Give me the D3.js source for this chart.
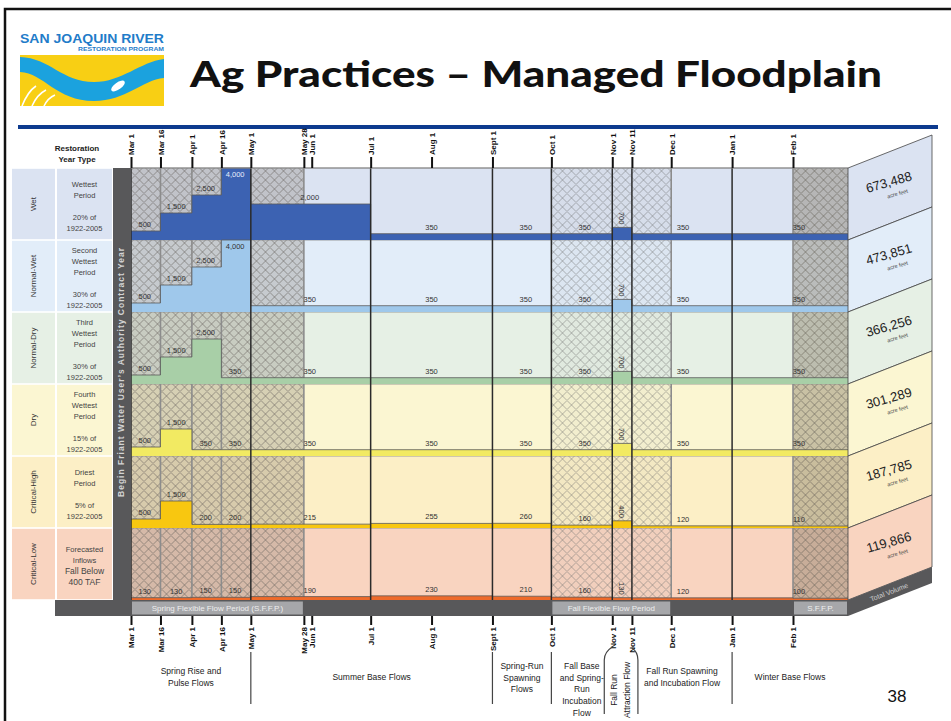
<!DOCTYPE html>
<html>
<head>
<meta charset="utf-8">
<script src="https://cdn.jsdelivr.net/npm/d3@7"></script>
<style>
  body { margin: 0; background: #fff; }
  text { font-family: "Liberation Sans", Arial, sans-serif; }
  .tick text { font-family: "Liberation Sans Narrow", "Liberation Sans", sans-serif; font-weight: bold; font-size: 8px; }
</style>
</head>
<body>
<div id="chart"></div>
<script>
// restoration year types, top to bottom
var yearTypes = ["Wet", "Normal-Wet", "Normal-Dry", "Dry", "Critical-High", "Critical-Low"];
var descriptions = [
  ["Wettest", "Period", "", "20% of", "1922-2005"],
  ["Second", "Wettest", "Period", "", "30% of", "1922-2005"],
  ["Third", "Wettest", "Period", "", "30% of", "1922-2005"],
  ["Fourth", "Wettest", "Period", "", "15% of", "1922-2005"],
  ["Driest", "Period", "", "5% of", "1922-2005"],
  ["Forecasted", "Inflows", "Fall Below", "400 TAF"]
];
var totalVolumes = ["673,488", "473,851", "366,256", "301,289", "187,785", "119,866"];

// flow periods (start dates, last one is the end of the year)
var periodBounds = ["2010-03-01", "2010-03-16", "2010-04-01", "2010-04-16", "2010-05-01", "2010-07-01",
  "2010-09-01", "2010-10-01", "2010-11-01", "2010-11-11", "2011-02-01", "2011-03-01"];
var labelDates = ["2010-03-08", "2010-03-24", "2010-04-08", "2010-04-23", "2010-05-31", "2010-08-01",
  "2010-09-18", "2010-10-18", "2010-11-06", "2010-12-07", "2011-02-04"];

// flows in cfs for each period
var flowWet          = [500, 1500, 2500, 4000, 2000, 350, 350, 350, 700, 350, 350];
var flowNormalWet    = [500, 1500, 2500, 4000, 350, 350, 350, 350, 700, 350, 350];
var flowNormalDry    = [500, 1500, 2500, 350, 350, 350, 350, 350, 700, 350, 350];
var flowDry          = [500, 1500, 350, 350, 350, 350, 350, 350, 700, 350, 350];
var flowCriticalHigh = [500, 1500, 200, 200, 215, 255, 260, 160, 400, 120, 110];
var flowCriticalLow  = [130, 130, 150, 150, 190, 230, 210, 160, 130, 120, 100];
var flows = [flowWet, flowNormalWet, flowNormalDry, flowDry, flowCriticalHigh, flowCriticalLow];

// axis ticks
var tickDates = ["2010-03-01", "2010-03-16", "2010-04-01", "2010-04-16", "2010-05-01", "2010-05-28", "2010-06-01",
  "2010-07-01", "2010-08-01", "2010-09-01", "2010-10-01", "2010-11-01", "2010-11-11", "2010-12-01", "2011-01-01", "2011-02-01"];
var tickLabels = ["Mar 1", "Mar 16", "Apr 1", "Apr 16", "May 1", "May 28", "Jun 1", "Jul 1", "Aug 1",
  "Sept 1", "Oct 1", "Nov 1", "Nov 11", "Dec 1", "Jan 1", "Feb 1"];
var strongLines = ["2010-05-01", "2010-07-01", "2010-09-01", "2010-10-01", "2010-11-01", "2010-11-11", "2011-01-01"];
var lightLines = ["2010-03-16", "2010-04-01", "2010-04-16", "2010-05-28", "2010-12-01", "2011-02-01"];

// flexible flow periods (hatched)
var flexStarts = ["2010-03-01", "2010-10-01", "2011-02-01"];
var flexEnds = ["2010-05-28", "2010-12-01", "2011-03-01"];
var flexNames = ["Spring Flexible Flow Period (S.F.F.P.)", "Fall Flexible Flow Period", "S.F.F.P."];

// flow periods named under the chart
var sectionNames = [["Spring Rise and", "Pulse Flows"], ["Summer Base Flows"], ["Spring-Run", "Spawning", "Flows"],
  ["Fall Base", "and Spring-", "Run", "Incubation", "Flow"], ["Fall Run Spawning", "and Incubation Flow"], ["Winter Base Flows"]];
var sectionStarts = ["2010-03-01", "2010-05-01", "2010-09-01", "2010-10-01", "2010-11-11", "2011-01-01"];
var sectionEnds = ["2010-05-01", "2010-09-01", "2010-10-01", "2010-11-01", "2011-01-01", "2011-03-01"];
var sectionLines = ["2010-05-01", "2010-09-01", "2010-10-01", "2011-01-01"];

var rowFill = ["#dbe3f2", "#e2edf9", "#e6f0e5", "#fbf6d2", "#fcefc6", "#f9d4c0"];
var barFill = ["#3c62b2", "#9fc8eb", "#a8cfa7", "#f2ea62", "#f8c710", "#ee6a2a"];

var parse = d3.timeParse("%Y-%m-%d");
var fmt = d3.format(",");

var svg = d3.select("#chart").append("svg").attr("width", 951).attr("height", 721);

// slide frame, logo, title
svg.append("rect").attr("x", 5).attr("y", 9).attr("width", 1000).attr("height", 1000)
  .attr("fill", "none").attr("stroke", "#111").attr("stroke-width", 2.5);

var logo = svg.append("g");
logo.append("text").attr("x", 20).attr("y", 43).attr("textLength", 144).attr("lengthAdjust", "spacingAndGlyphs")
  .attr("font-size", 12).attr("font-weight", "bold").attr("fill", "#1f7cc9")
  .style("font-family", "'Liberation Sans Narrow', sans-serif").text("SAN JOAQUIN RIVER");
logo.append("text").attr("x", 78).attr("y", 51).attr("textLength", 86).attr("lengthAdjust", "spacingAndGlyphs")
  .attr("font-size", 5.5).attr("font-weight", "bold").attr("fill", "#1f7cc9").text("RESTORATION PROGRAM");
logo.append("rect").attr("x", 20).attr("y", 55).attr("width", 144).attr("height", 51).attr("fill", "#f8cf14");
logo.append("path").attr("fill", "#1ba2de")
  .attr("d", "M20,57 C50,58 62,82 94,82 C122,82 140,62 164,59 L164,78 C142,80 126,101 94,101 C56,101 44,73 20,72 Z");
logo.append("path").attr("fill", "none").attr("stroke", "#fff").attr("stroke-width", 1.6)
  .attr("d", "M22,106 C26,96 30,90 36,86 M32,106 C36,97 40,93 46,90 M44,106 C47,100 50,97 55,95");
logo.append("ellipse").attr("cx", 118).attr("cy", 86).attr("rx", 8).attr("ry", 3.5)
  .attr("transform", "rotate(-35,118,86)").attr("fill", "#fff");

svg.append("text").attr("x", 190).attr("y", 87).attr("font-size", 36).attr("font-weight", 900)
  .attr("textLength", 692).attr("lengthAdjust", "spacingAndGlyphs")
  .style("font-family", "Lato, 'Open Sans', sans-serif").attr("fill", "#111")
  .text("Ag Practices \u2013 Managed Floodplain");

svg.append("rect").attr("x", 18).attr("y", 125).attr("width", 920).attr("height", 4).attr("fill", "#0d3a8e");

// scales
var chartTop = 168, rowH = 72;
var x = d3.scaleTime().domain([parse("2010-03-01"), parse("2011-03-01")]).range([131, 848]);
var y = d3.scaleBand().domain(yearTypes).range([chartTop, chartTop + rowH * yearTypes.length]);
var h = d3.scaleLinear().domain([0, 4000]).range([0, rowH]);
var chartBottom = chartTop + rowH * yearTypes.length;

// patterns
var defs = svg.append("defs");
function lattice(id, tint, stroke) {
  var p = defs.append("pattern").attr("id", id).attr("patternUnits", "userSpaceOnUse")
    .attr("width", 9).attr("height", 9);
  p.append("rect").attr("width", 9).attr("height", 9).attr("fill", tint);
  p.append("path").attr("d", "M0,4.5 Q2.25,2.25 4.5,0 Q6.75,2.25 9,4.5 Q6.75,6.75 4.5,9 Q2.25,6.75 0,4.5 Z")
    .attr("fill", "none").attr("stroke", stroke).attr("stroke-width", 0.8);
}
lattice("hatchDark", "rgba(140,130,118,0.33)", "rgba(105,100,95,0.75)");
lattice("hatchLight", "rgba(170,170,170,0.10)", "rgba(110,110,110,0.6)");
lattice("hatchFeb", "rgba(130,118,100,0.42)", "rgba(100,95,88,0.75)");
var hatchIds = ["hatchDark", "hatchLight", "hatchFeb"];

// row backgrounds
svg.selectAll(".rowBg").data(yearTypes).enter().append("rect")
  .attr("x", x.range()[0]).attr("width", x.range()[1] - x.range()[0])
  .attr("y", function(d) { return y(d); }).attr("height", y.bandwidth())
  .attr("fill", function(d, i) { return rowFill[i]; });

// hatched flexible periods
svg.selectAll(".flex").data(flexStarts).enter().append("rect")
  .attr("x", function(d) { return x(parse(d)); })
  .attr("width", function(d, i) { return x(parse(flexEnds[i])) - x(parse(d)); })
  .attr("y", chartTop).attr("height", chartBottom - chartTop)
  .attr("fill", function(d, i) { return "url(#" + hatchIds[i] + ")"; });

// row separators
svg.selectAll(".sep").data(yearTypes).enter().append("line")
  .attr("x1", x.range()[0]).attr("x2", x.range()[1])
  .attr("y1", function(d) { return y(d); }).attr("y2", function(d) { return y(d); })
  .attr("stroke", "#8a8a8a").attr("stroke-width", 0.8);

// light vertical lines
svg.selectAll(".lightLine").data(lightLines).enter().append("line")
  .attr("x1", function(d) { return x(parse(d)); }).attr("x2", function(d) { return x(parse(d)); })
  .attr("y1", chartTop).attr("y2", chartBottom)
  .attr("stroke", "#8c8c8c").attr("stroke-width", 1.6);

// flow bars as step areas
var area = d3.area().curve(d3.curveStepAfter)
  .x(function(d) { return x(d.date); });
var line = d3.line().curve(d3.curveStepAfter)
  .x(function(d) { return x(d.date); });

flows.forEach(function(series, r) {
  var base = y(yearTypes[r]) + y.bandwidth();
  var pts = periodBounds.map(function(d, i) {
    return { date: parse(d), flow: series[Math.min(i, series.length - 1)] };
  });
  area.y0(base).y1(function(d) { return base - h(d.flow); });
  line.y(function(d) { return base - h(d.flow); });
  svg.append("path").datum(pts).attr("d", area).attr("fill", barFill[r]);
  svg.append("path").datum(pts).attr("d", line).attr("fill", "none")
    .attr("stroke", "#5a5a5a").attr("stroke-width", 0.8);

  series.forEach(function(v, i) {
    var lx = x(parse(labelDates[i]));
    var top = base - h(v);
    var t = svg.append("text").attr("font-size", 7.5).attr("fill", "#333").text(fmt(v));
    if (i === 8) {
      t.attr("transform", "translate(" + lx + "," + (top - 3) + ") rotate(90)")
        .attr("text-anchor", "end").attr("dy", "0.35em");
    } else if (top - 10 < y(yearTypes[r])) {
      // full-height bar: label sits inside its top
      t.attr("x", lx).attr("y", top + 9).attr("text-anchor", "middle");
      if (r === 0) t.attr("fill", "#e8eefc");
    } else {
      t.attr("x", lx).attr("y", top - 4).attr("text-anchor", "middle");
    }
  });
});

// strong vertical lines
svg.selectAll(".strongLine").data(strongLines).enter().append("line")
  .attr("x1", function(d) { return x(parse(d)); }).attr("x2", function(d) { return x(parse(d)); })
  .attr("y1", chartTop).attr("y2", chartBottom)
  .attr("stroke", "#2b2b2b").attr("stroke-width", 1.5);
svg.append("line").attr("x1", x.range()[0]).attr("x2", x.range()[0])
  .attr("y1", chartTop).attr("y2", chartBottom).attr("stroke", "#2b2b2b").attr("stroke-width", 1.5);
svg.append("line").attr("x1", x.range()[0]).attr("x2", x.range()[1])
  .attr("y1", chartTop).attr("y2", chartTop).attr("stroke", "#8a8a8a").attr("stroke-width", 1);

// dark bands (contract year + flexible period strip)
svg.append("rect").attr("x", 113).attr("y", chartTop).attr("width", x.range()[0] - 113)
  .attr("height", chartBottom + 16 - chartTop).attr("fill", "#58585a");
svg.append("rect").attr("x", 55).attr("y", chartBottom).attr("width", x.range()[1] - 55)
  .attr("height", 16).attr("fill", "#58585a");
svg.append("text").attr("transform", "translate(124,372) rotate(-90)").attr("text-anchor", "middle")
  .attr("font-size", 8.5).attr("font-weight", "bold").attr("letter-spacing", 1).attr("fill", "#d4d4d4")
  .text("Begin Friant Water User\u2019s Authority Contract Year");

svg.selectAll(".flexBox").data(flexStarts).enter().append("rect")
  .attr("x", function(d) { return x(parse(d)) + 1; })
  .attr("width", function(d, i) { return x(parse(flexEnds[i])) - x(parse(d)) - 2; })
  .attr("y", chartBottom + 1.5).attr("height", 13).attr("fill", "#a6a7aa");
svg.selectAll(".flexName").data(flexNames).enter().append("text")
  .attr("x", function(d, i) { return (x(parse(flexStarts[i])) + x(parse(flexEnds[i]))) / 2; })
  .attr("y", chartBottom + 11).attr("text-anchor", "middle")
  .attr("font-size", 8).attr("fill", "#eeeeee").text(function(d) { return d; });

// left columns
svg.append("text").attr("x", 77).attr("y", 151).attr("text-anchor", "middle")
  .attr("font-size", 8).attr("font-weight", "bold").attr("fill", "#222").text("Restoration");
svg.append("text").attr("x", 77).attr("y", 162).attr("text-anchor", "middle")
  .attr("font-size", 8).attr("font-weight", "bold").attr("fill", "#222").text("Year Type");

yearTypes.forEach(function(t, i) {
  var top = y(t), mid = top + y.bandwidth() / 2;
  svg.append("rect").attr("x", 12).attr("y", top + 0.8).attr("width", 43).attr("height", y.bandwidth() - 1.6)
    .attr("fill", rowFill[i]);
  svg.append("rect").attr("x", 57).attr("y", top + 0.8).attr("width", 55).attr("height", y.bandwidth() - 1.6)
    .attr("fill", rowFill[i]);
  svg.append("text").attr("transform", "translate(33," + mid + ") rotate(-90)")
    .attr("text-anchor", "middle").attr("dy", "0.35em").attr("font-size", 8).attr("fill", "#333").text(t);
  var lines = descriptions[i];
  var first = mid + 2 - (lines.length - 1) * 11 / 2;
  lines.forEach(function(l, k) {
    svg.append("text").attr("x", 84.5).attr("y", first + k * 11).attr("dy", "0.35em")
      .attr("text-anchor", "middle").attr("font-size", i === 5 && k >= 2 ? 8.5 : 7.5)
      .attr("fill", "#444").text(l);
  });
});

// right panel: total volume per year type
var px0 = x.range()[1], px1 = 932, skew = 33;
yearTypes.forEach(function(t, i) {
  var y0 = y(t), y1 = y0 + y.bandwidth();
  var pts = [[px0, y0], [px1, y0 - skew], [px1, y1 - skew], [px0, y1]];
  svg.append("path").attr("d", "M" + pts.join("L") + "Z").attr("fill", rowFill[i])
    .attr("stroke", "#444").attr("stroke-width", 0.8);
  var cx = (px0 + px1) / 2, cy = (y0 + y1) / 2 - skew / 2;
  svg.append("text").attr("transform", "translate(" + cx + "," + (cy - 1) + ") rotate(-16)")
    .attr("text-anchor", "middle").attr("font-size", 13).attr("fill", "#222").text(totalVolumes[i]);
  svg.append("text").attr("transform", "translate(" + (cx + 8) + "," + (cy + 8) + ") rotate(-16)")
    .attr("text-anchor", "middle").attr("font-size", 5.5).attr("fill", "#444").text("acre feet");
});
var band = [[px0, chartBottom], [px1, chartBottom - skew], [px1, chartBottom - skew + 16], [px0, chartBottom + 16]];
svg.append("path").attr("d", "M" + band.join("L") + "Z").attr("fill", "#58585a");
svg.append("text").attr("transform", "translate(" + ((px0 + px1) / 2) + "," + (chartBottom - skew / 2 + 11) + ") rotate(-21)")
  .attr("text-anchor", "middle").attr("font-size", 7).attr("fill", "#cfcfcf").text("Total Volume");

// axes
var topAxis = d3.axisTop(x).tickValues(tickDates.map(parse)).tickSize(11)
  .tickFormat(function(d, i) { return tickLabels[i]; });
var gTop = svg.append("g").attr("transform", "translate(0," + chartTop + ")").call(topAxis);
gTop.select(".domain").remove();
gTop.selectAll(".tick line").attr("stroke", "#111").attr("stroke-width", 2);
gTop.selectAll(".tick text").attr("transform", "rotate(-90)").attr("x", 13).attr("y", 0)
  .attr("dy", "0.35em").attr("text-anchor", "start").attr("fill", "#111");

var bottomAxis = d3.axisBottom(x).tickValues(tickDates.map(parse)).tickSize(9)
  .tickFormat(function(d, i) { return tickLabels[i]; });
var gBot = svg.append("g").attr("transform", "translate(0," + (chartBottom + 16) + ")").call(bottomAxis);
gBot.select(".domain").remove();
gBot.selectAll(".tick line").attr("stroke", "#111").attr("stroke-width", 2);
gBot.selectAll(".tick text").attr("transform", "rotate(-90)").attr("x", -11).attr("y", 0)
  .attr("dy", "0.35em").attr("text-anchor", "end").attr("fill", "#111");

// flow period names under the chart
svg.selectAll(".secLine").data(sectionLines).enter().append("line")
  .attr("x1", function(d) { return x(parse(d)); }).attr("x2", function(d) { return x(parse(d)); })
  .attr("y1", 652).attr("y2", 704).attr("stroke", "#444").attr("stroke-width", 1.2);
var n1 = x(parse("2010-11-01")), n11 = x(parse("2010-11-11"));
svg.append("path").attr("d", "M" + n1 + ",647 Q" + (n1 - 8) + ",652 " + (n1 - 8) + ",660 L" + (n1 - 8) + ",714")
  .attr("fill", "none").attr("stroke", "#444").attr("stroke-width", 1.2);
svg.append("path").attr("d", "M" + n11 + ",648 Q" + (n11 + 6) + ",652 " + (n11 + 6) + ",660 L" + (n11 + 6) + ",714")
  .attr("fill", "none").attr("stroke", "#444").attr("stroke-width", 1.2);

sectionNames.forEach(function(lines, i) {
  var cx = (x(parse(sectionStarts[i])) + x(parse(sectionEnds[i]))) / 2;
  var first = Math.max(666, 677 - (lines.length - 1) * 5.9);
  lines.forEach(function(l, k) {
    svg.append("text").attr("x", cx).attr("y", first + k * 11.7).attr("dy", "0.35em")
      .attr("text-anchor", "middle").attr("font-size", 8.5).attr("fill", "#222").text(l);
  });
});
svg.append("text").attr("transform", "translate(" + (n1 + 2) + ",690) rotate(-90)").attr("text-anchor", "middle")
  .attr("dy", "0.35em").attr("font-size", 8.5).attr("fill", "#222").text("Fall Run");
svg.append("text").attr("transform", "translate(" + (n1 + 15) + ",690) rotate(-90)").attr("text-anchor", "middle")
  .attr("dy", "0.35em").attr("font-size", 8.5).attr("fill", "#222").text("Attraction Flow");

svg.append("text").attr("x", 897).attr("y", 702).attr("text-anchor", "middle")
  .attr("font-size", 17).attr("fill", "#111").text("38");
</script>
</body>
</html>
